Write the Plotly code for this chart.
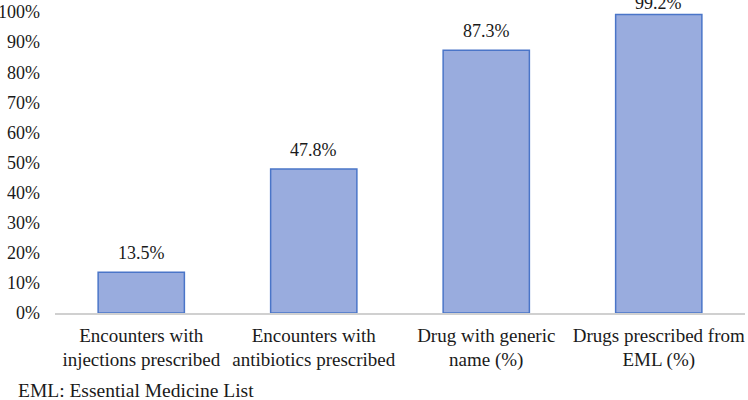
import plotly.graph_objects as go

categories = ["Encounters with<br>injections prescribed",
              "Encounters with<br>antibiotics prescribed",
              "Drug with generic<br>name (%)",
              "Drugs prescribed from<br>EML (%)"]
values = [13.5, 47.8, 87.3, 99.2]
labels = ["13.5%", "47.8%", "87.3%", "99.2%"]
tick_vals = [0, 10, 20, 30, 40, 50, 60, 70, 80, 90, 100]
tick_text = [f"{v}%" for v in tick_vals]
footnote = "EML: Essential Medicine List"

FONT = "Liberation Serif"
TXT = "#1a1a1a"

fig = go.Figure(go.Bar(
    x=categories, y=values,
    marker=dict(color="#99acde", line=dict(color="#4a75c8", width=1.5)),
    cliponaxis=False,
))

# labels sit above each bar; near the top they are pushed down to stay in view
value_annotations = [
    dict(x=c, y=v, text=t, xref="x", yref="y", yanchor="bottom",
         yshift=7 if v < 95 else -1,
         showarrow=False, font=dict(family=FONT, size=18, color=TXT))
    for c, v, t in zip(categories, values, labels)
]

PH = 301
fig.update_layout(
    width=748, height=400,
    margin=dict(l=55, r=3, t=12, b=87, autoexpand=False),
    plot_bgcolor="white", paper_bgcolor="white",
    bargap=0.5, showlegend=False,
    font=dict(family=FONT, size=18, color=TXT),
    xaxis=dict(showline=True, linecolor="#d0d0d0", linewidth=1.5, ticks="",
               automargin=False, ticklabelstandoff=4,
               tickfont=dict(family=FONT, size=19, color=TXT)),
    yaxis=dict(range=[0, 100], tickvals=tick_vals, ticktext=tick_text,
               showgrid=False, zeroline=False, showline=False, ticks="",
               automargin=False, ticklabelstandoff=14,
               tickfont=dict(family=FONT, size=18, color=TXT)),
    annotations=value_annotations + [
        dict(text=footnote, xref="paper", yref="paper", x=(16 - 55) / 690,
             y=-(390 - 313) / PH,
             xanchor="left", yanchor="middle", showarrow=False,
             font=dict(family=FONT, size=19.5, color=TXT))],
)

fig.write_html("out.html", config={"displayModeBar": False},
               post_script="document.body.style.margin='0';")
